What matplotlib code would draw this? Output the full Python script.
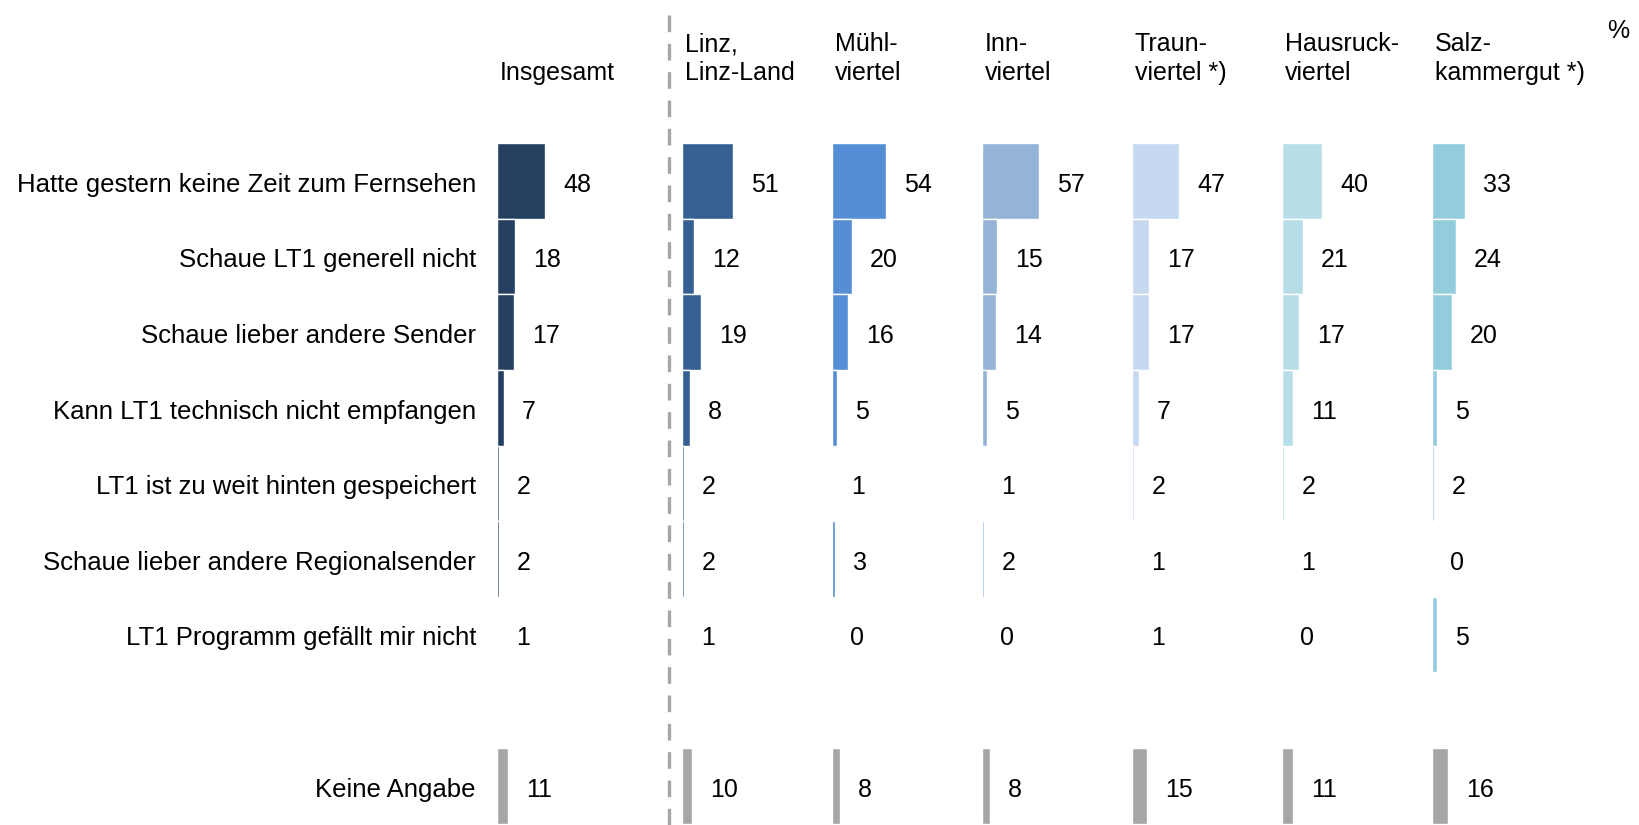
import matplotlib
matplotlib.use("Agg")
import matplotlib.pyplot as plt

plt.rcParams['font.family'] = ['Liberation Sans', 'DejaVu Sans']

categories = [
    "Hatte gestern keine Zeit zum Fernsehen",
    "Schaue LT1 generell nicht",
    "Schaue lieber andere Sender",
    "Kann LT1 technisch nicht empfangen",
    "LT1 ist zu weit hinten gespeichert",
    "Schaue lieber andere Regionalsender",
    "LT1 Programm gefällt mir nicht",
]
no_answer_label = "Keine Angabe"

groups = ["Insgesamt", "Linz,\nLinz-Land", "Mühl-\nviertel", "Inn-\nviertel",
          "Traun-\nviertel *)", "Hausruck-\nviertel", "Salz-\nkammergut *)"]

insgesamt = [48, 18, 17, 7, 2, 2, 1]
linz = [51, 12, 19, 8, 2, 2, 1]
muehlviertel = [54, 20, 16, 5, 1, 3, 0]
innviertel = [57, 15, 14, 5, 1, 2, 0]
traunviertel = [47, 17, 17, 7, 2, 1, 1]
hausruckviertel = [40, 21, 17, 11, 2, 1, 0]
salzkammergut = [33, 24, 20, 5, 2, 0, 5]
series = [insgesamt, linz, muehlviertel, innviertel, traunviertel,
          hausruckviertel, salzkammergut]

keine_angabe = [11, 10, 8, 8, 15, 11, 16]

colors = ["#243F60", "#366092", "#558ED5", "#95B3D7", "#C6D9F1", "#B7DEE8", "#93CDDD"]
gray = "#A6A6A6"

W, H = 1640, 825
fig = plt.figure(figsize=(W / 100, H / 100), dpi=100)

# panel left edges in pixels (layout only)
panel_left = [497, 682, 832, 982, 1132, 1282, 1432]
panel_w = 150
row0, pitch = 181, 75.6
ylim = ((H - row0) / pitch, -row0 / pitch)

fs = 18
rows = list(range(len(categories)))
na_row = len(categories) + 1
dy = 0.05  # small downward nudge so digits sit on the row centre

for k, (vals, col) in enumerate(zip(series, colors)):
    ax = fig.add_axes([panel_left[k] / W, 0, panel_w / W, 1])
    ax.set_xlim(0, panel_w)
    ax.set_ylim(*ylim)
    ax.axis('off')
    ax.barh(rows, vals, height=1.0, color=col, edgecolor='white', linewidth=1)
    ax.barh([na_row], [keine_angabe[k]], height=1.0, color=gray,
            edgecolor='white', linewidth=1)
    for r, v in zip(rows, vals):
        ax.text(v + 18, r + dy, str(v), ha='left', va='center', fontsize=fs)
    ax.text(keine_angabe[k] + 18, na_row + dy, str(keine_angabe[k]),
            ha='left', va='center', fontsize=fs)

    # header
    lines = groups[k].split("\n")
    base = [(80 - row0) / pitch, (51 - row0) / pitch]
    for j, line in enumerate(reversed(lines)):
        ax.text(3, base[j], line, ha='left', va='baseline', fontsize=fs)

    if k == 0:
        for r, c in zip(rows, categories):
            ax.text(-21, r + dy, c, ha='right', va='center', fontsize=18.5)
        ax.text(-21, na_row + dy, no_answer_label, ha='right', va='center', fontsize=18.5)
    if k == 1:
        ax.axvline(-13, ymin=0, ymax=1 - 8 / H, color=gray, linewidth=2.4,
                   linestyle=(0, (5, 3.5)), clip_on=False)

fig.text(1618 / W, 1 - 31 / H, "%", ha='center', va='center', fontsize=fs)

fig.savefig("out.png", dpi=100)
